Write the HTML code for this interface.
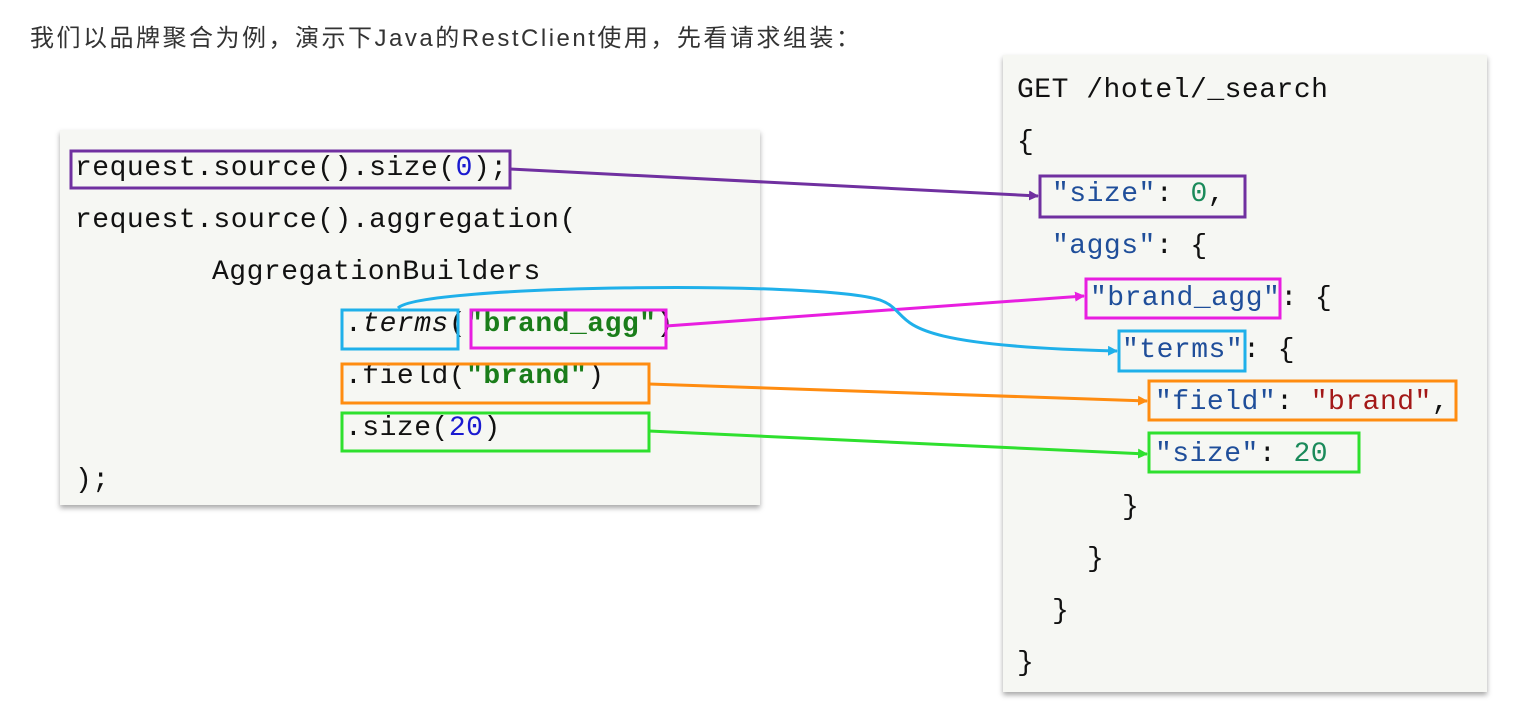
<!DOCTYPE html>
<html><head><meta charset="utf-8"><style>
body{margin:0;width:1517px;height:707px;background:#fff;position:relative;overflow:hidden;font-family:"Liberation Sans","Noto Sans CJK SC",sans-serif}
.t{position:absolute;left:30px;top:18px;font-size:24px;letter-spacing:2.5px;color:#333}
.p{position:absolute;background:#f6f7f3;box-shadow:0 3px 5px rgba(0,0,0,.35)}
.c{position:absolute;font-family:"Liberation Mono","DejaVu Sans Mono",monospace;font-size:28px;letter-spacing:0.5px;color:#111;white-space:pre;line-height:30px}
.g{color:#1a7d1a;font-weight:bold}.b{color:#1a1ad0}.k{color:#1f4e9a}.n{color:#1a8a5a}.r{color:#a31818}
</style></head><body>
<div class="t">我们以品牌聚合为例，演示下Java的RestClient使用，先看请求组装：</div>
<div class="p" style="left:60px;top:130px;width:700px;height:375px"></div>
<div class="p" style="left:1003px;top:55px;width:484px;height:637px"></div>
<div class="c" style="left:75px;top:154px">request.source().size(<span class="b">0</span>);</div>
<div class="c" style="left:75px;top:206px">request.source().aggregation(</div>
<div class="c" style="left:212px;top:258px">AggregationBuilders</div>
<div class="c" style="left:345px;top:310px">.<i>terms</i>(<span class="g">"brand_agg"</span>)</div>
<div class="c" style="left:345px;top:362px">.field(<span class="g">"brand"</span>)</div>
<div class="c" style="left:345px;top:414px">.size(<span class="b">20</span>)</div>
<div class="c" style="left:75px;top:466px">);</div>
<div class="c" style="left:1017px;top:76px">GET /hotel/_search</div>
<div class="c" style="left:1017px;top:128px">{</div>
<div class="c" style="left:1052px;top:180px"><span class="k">"size"</span>: <span class="n">0</span>,</div>
<div class="c" style="left:1052px;top:232px"><span class="k">"aggs"</span>: {</div>
<div class="c" style="left:1090px;top:284px"><span class="k">"brand_agg"</span>: {</div>
<div class="c" style="left:1122px;top:336px"><span class="k">"terms"</span>: {</div>
<div class="c" style="left:1155px;top:388px"><span class="k">"field"</span>: <span class="r">"brand"</span>,</div>
<div class="c" style="left:1155px;top:440px"><span class="k">"size"</span>: <span class="n">20</span></div>
<div class="c" style="left:1122px;top:493px">}</div>
<div class="c" style="left:1087px;top:545px">}</div>
<div class="c" style="left:1052px;top:597px">}</div>
<div class="c" style="left:1017px;top:649px">}</div>
<svg width="1517" height="707" style="position:absolute;left:0;top:0" fill="none" stroke-width="3">
<defs>
<marker id="m1" markerWidth="10" markerHeight="10" refX="9" refY="5" orient="auto" markerUnits="userSpaceOnUse"><path d="M0,0L10,5L0,10z" fill="#7030a0" stroke="none"/></marker>
<marker id="m2" markerWidth="10" markerHeight="10" refX="9" refY="5" orient="auto" markerUnits="userSpaceOnUse"><path d="M0,0L10,5L0,10z" fill="#e81ee0" stroke="none"/></marker>
<marker id="m3" markerWidth="10" markerHeight="10" refX="9" refY="5" orient="auto" markerUnits="userSpaceOnUse"><path d="M0,0L10,5L0,10z" fill="#1fb0ea" stroke="none"/></marker>
<marker id="m4" markerWidth="10" markerHeight="10" refX="9" refY="5" orient="auto" markerUnits="userSpaceOnUse"><path d="M0,0L10,5L0,10z" fill="#ff8c10" stroke="none"/></marker>
<marker id="m5" markerWidth="10" markerHeight="10" refX="9" refY="5" orient="auto" markerUnits="userSpaceOnUse"><path d="M0,0L10,5L0,10z" fill="#2ee02e" stroke="none"/></marker>
</defs>
<rect x="71" y="151" width="439" height="37" stroke="#7030a0"/>
<rect x="1040" y="176" width="205" height="41" stroke="#7030a0"/>
<rect x="471" y="310" width="195" height="38" stroke="#e81ee0"/>
<rect x="1086" y="279" width="194" height="39" stroke="#e81ee0"/>
<rect x="342" y="310" width="116" height="39" stroke="#1fb0ea"/>
<rect x="1119" y="331" width="126" height="40" stroke="#1fb0ea"/>
<rect x="342" y="364" width="307" height="39" stroke="#ff8c10"/>
<rect x="1149" y="381" width="307" height="39" stroke="#ff8c10"/>
<rect x="342" y="413" width="307" height="38" stroke="#2ee02e"/>
<rect x="1149" y="433" width="210" height="39" stroke="#2ee02e"/>
<line x1="510" y1="169" x2="1038" y2="196" stroke="#7030a0" marker-end="url(#m1)"/>
<line x1="666" y1="326" x2="1084" y2="296" stroke="#e81ee0" marker-end="url(#m2)"/>
<path d="M398,308 C420,285 820,280 880,300 C920,315 870,345 1117,351" stroke="#1fb0ea" marker-end="url(#m3)"/>
<line x1="649" y1="384" x2="1147" y2="401" stroke="#ff8c10" marker-end="url(#m4)"/>
<line x1="649" y1="431" x2="1147" y2="454" stroke="#2ee02e" marker-end="url(#m5)"/>
</svg>
</body></html>
